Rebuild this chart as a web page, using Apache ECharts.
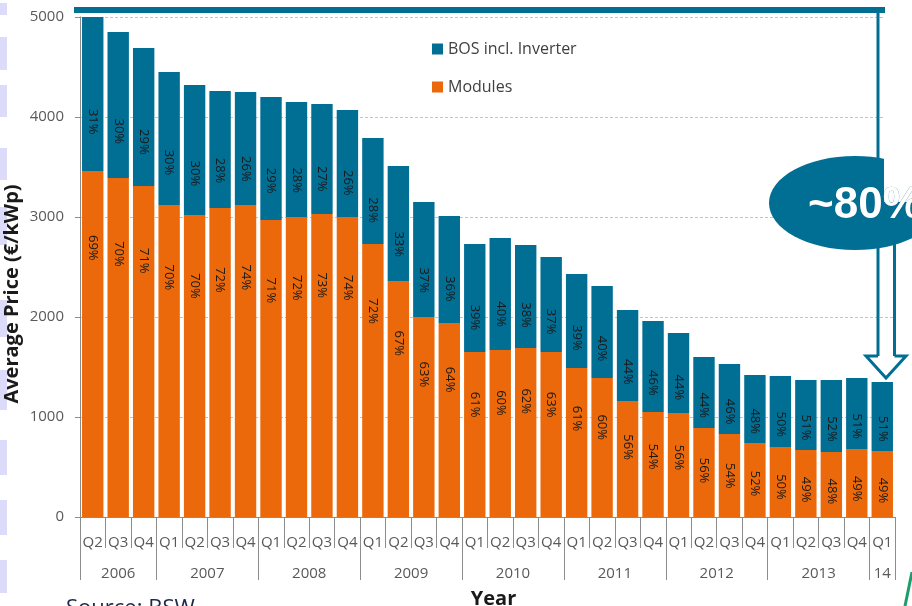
<!DOCTYPE html>
<html><head><meta charset="utf-8">
<script src="https://cdn.jsdelivr.net/npm/echarts@6/dist/echarts.min.js"></script>
<style>html,body{margin:0;padding:0;background:#fff}#c{width:912px;height:606px}</style>
</head><body><div id="c"></div>
<script>
const quarters = ['Q2','Q3','Q4',
  'Q1','Q2','Q3','Q4','Q1','Q2','Q3','Q4','Q1','Q2','Q3','Q4','Q1','Q2','Q3','Q4',
  'Q1','Q2','Q3','Q4','Q1','Q2','Q3','Q4','Q1','Q2','Q3','Q4','Q1'];
const years = ['2006','2007','2008','2009','2010','2011','2012','2013','14'];
const yearCounts = [3,4,4,4,4,4,4,4,1];
const modules = [3460,3390,3310,3120,3020,3090,3120,2970,3000,3030,3000,2730,2360,2000,1940,
  1650,1670,1690,1650,1490,1390,1160,1050,1040,890,830,740,700,670,650,680,660];
const bos = [1540,1460,1380,1330,1300,1170,1130,1230,1150,1100,1070,1060,1150,1150,1070,
  1080,1120,1030,950,940,920,910,910,800,710,700,680,710,700,720,710,690];
const modulesPct = [69,70,71,70,70,72,74,71,72,73,74,72,67,63,64,61,60,62,63,61,60,56,54,56,56,54,52,50,49,48,49,49];
const bosPct = [31,30,29,30,30,28,26,29,28,27,26,28,33,37,36,39,40,38,37,39,40,44,46,44,44,46,48,50,51,52,51,51];
const yMin = 0, yMax = 5000, yStep = 1000;

const TEAL = '#016e94', ORANGE = '#eb690b';
const FONT = '"Open Sans", "Noto Sans", sans-serif';

// year boundaries and label slots
const yearStart = []; let acc = 0;
yearCounts.forEach(c => { yearStart.push(acc); acc += c; });
const boundarySet = new Set(yearStart);
const yearLabelAt = {};
years.forEach((y, i) => {
  const s = yearStart[i], c = yearCounts[i];
  if (c % 2 === 1) yearLabelAt[s + (c - 1) / 2] = '{c|' + y + '}';
  else yearLabelAt[s + c / 2 - 1] = '{r|' + y + '}';
});

const pxPerUnit = 500 / (yMax - yMin);
const modData = modules.map((m, i) => {
  const len = m * pxPerUnit;
  const d = 30.6 + 0.134 * len;
  return { value: m, label: { position: ['50%', (d / len * 100).toFixed(1) + '%'] } };
});

const chart = echarts.init(document.getElementById('c'));
const lav = [[3,15],[37,70],[85,117],[148,180],[207,245],[300,337],[370,410],[440,475],[500,535],[560,593]];
const graphics = lav.map(r => ({ type: 'rect', shape: { x: 0, y: r[0], width: 7, height: r[1] - r[0] }, style: { fill: '#dcdcfa' }, z: 1 }));

graphics.push(
  { type: 'text', x: 12, y: 294, rotation: Math.PI / 2, style: { text: 'Average Price (€/kWp)', font: 'bold 20px ' + FONT, fill: '#1a1a1a', align: 'center', verticalAlign: 'middle' }, z: 5 },
  { type: 'line', shape: { x1: 878, y1: 10, x2: 878, y2: 356 }, style: { stroke: TEAL, lineWidth: 3 }, z: 20 },
  { type: 'line', shape: { x1: 894.5, y1: 202, x2: 894.5, y2: 356 }, style: { stroke: TEAL, lineWidth: 3 }, z: 20 },
  { type: 'polyline', shape: { points: [[878,356],[866,356],[886,378],[906,356],[894.5,356]] }, style: { stroke: TEAL, lineWidth: 3, fill: null }, z: 20 },
  { type: 'ellipse', shape: { cx: 855, cy: 203, rx: 86, ry: 47 }, style: { fill: TEAL }, z: 21 },
  { type: 'rect', shape: { x: 884, y: 0, width: 28, height: 202 }, style: { fill: '#fff' }, z: 22 },
  { type: 'line', shape: { x1: 74, y1: 10, x2: 885, y2: 10 }, style: { stroke: TEAL, lineWidth: 6 }, z: 23 },
  { type: 'text', x: 808, y: 206, style: { text: '~80%', font: 'bold 44px "Liberation Sans Narrow", "Liberation Sans", sans-serif', fill: '#fff', stroke: 'rgba(1,80,110,0.6)', lineWidth: 0.6, align: 'left', verticalAlign: 'middle' }, z: 24 },
  { type: 'text', x: 66, y: 598, style: { text: 'Source: BSW', font: '22px ' + FONT, fill: '#1c2a4a', align: 'left', verticalAlign: 'top' }, z: 5 },
  { type: 'line', shape: { x1: 905, y1: 606, x2: 912, y2: 572 }, style: { stroke: '#1e9c6e', lineWidth: 3 }, z: 5 }
);

chart.setOption({
  animation: false,
  backgroundColor: '#fff',
  textStyle: { fontFamily: FONT },
  grid: { left: 80, right: 17, top: 17, bottom: 89, containLabel: false, outerBoundsMode: 'none' },
  legend: {
    orient: 'vertical', left: 427, top: 36, itemWidth: 11, itemHeight: 11, itemGap: 22,
    icon: 'rect',
    data: ['BOS incl. Inverter', 'Modules'],
    textStyle: { fontSize: 16, color: '#404040', fontFamily: FONT }
  },
  xAxis: [
    {
      type: 'category', data: quarters, position: 'bottom',
      axisLine: { lineStyle: { color: '#8c8c8c' } },
      axisTick: { show: true, interval: 0, length: 31, lineStyle: { color: '#8c8c8c' } },
      axisLabel: { interval: 0, margin: 18, fontSize: 15, color: '#595959' },
      splitLine: { show: false }
    },
    {
      type: 'category', data: quarters, position: 'bottom', offset: 0,
      axisLine: { show: false },
      axisTick: { show: true, length: 63, interval: i => boundarySet.has(i), lineStyle: { color: '#8c8c8c' } },
      axisLabel: {
        interval: 0, margin: 49, fontSize: 15, color: '#595959',
        formatter: (v, i) => yearLabelAt[i] || '',
        rich: { c: { fontSize: 15, color: '#595959' }, r: { fontSize: 15, color: '#595959', padding: [0, 0, 0, 25.5] } }
      },
      name: 'Year', nameLocation: 'middle', nameGap: 72,
      nameTextStyle: { fontSize: 20, fontWeight: 'bold', color: '#1a1a1a', padding: [0, 0, 0, 12] }
    }
  ],
  yAxis: {
    type: 'value', min: yMin, max: yMax, interval: yStep,
    axisLine: { show: true, lineStyle: { color: '#8c8c8c' } },
    axisTick: { show: true, length: 5, lineStyle: { color: '#8c8c8c' } },
    axisLabel: { margin: 16, fontSize: 15, color: '#595959', formatter: v => String(v) },
    splitLine: { show: true, lineStyle: { color: '#c4c4c4', type: [3, 2] } }
  },
  series: [
    {
      name: 'Modules', type: 'bar', stack: 'total', data: modData, barCategoryGap: '16%',
      itemStyle: { color: ORANGE },
      label: { show: true, rotate: -90, align: 'center', verticalAlign: 'middle', fontSize: 13, color: '#1a1a1a',
        formatter: p => modulesPct[p.dataIndex] + '%' }
    },
    {
      name: 'BOS incl. Inverter', type: 'bar', stack: 'total', data: bos, barCategoryGap: '16%',
      itemStyle: { color: TEAL },
      label: { show: true, rotate: -90, position: ['50%', '68%'], align: 'center', verticalAlign: 'middle', fontSize: 13, color: '#1a1a1a',
        formatter: p => bosPct[p.dataIndex] + '%' }
    }
  ],
  graphic: graphics
});
</script></body></html>
